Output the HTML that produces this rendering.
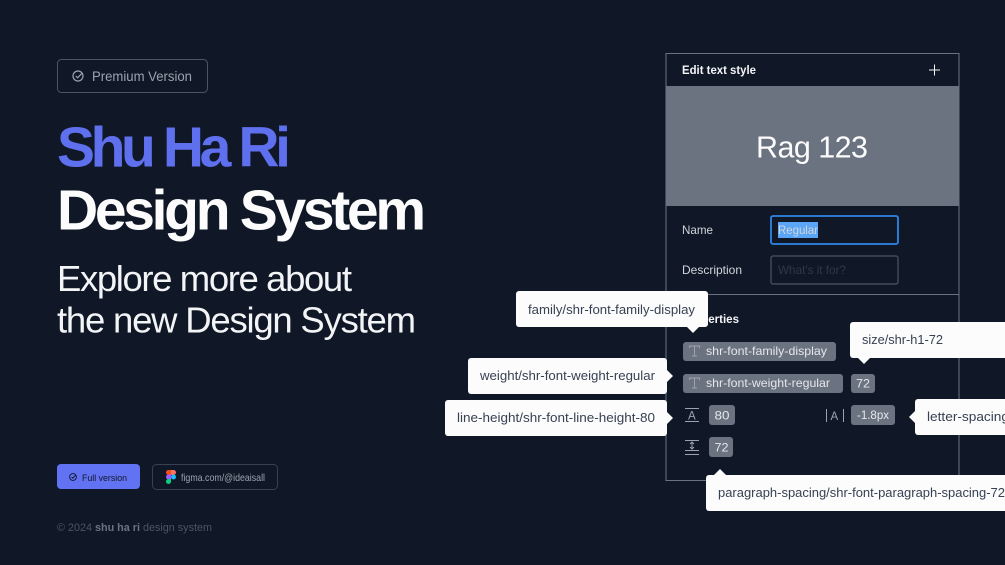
<!DOCTYPE html>
<html><head><meta charset="utf-8"><style>
html,body{margin:0;padding:0;background:#101827;width:1005px;height:565px;overflow:hidden}
svg{display:block}
text{font-family:"Liberation Sans",sans-serif}
</style></head><body>
<svg width="1005" height="565" viewBox="0 0 1005 565" xmlns="http://www.w3.org/2000/svg">
<rect width="1005" height="565" fill="#101827"/>
<!-- badge -->
<rect x="57.5" y="59.5" width="150" height="33" rx="4" fill="none" stroke="#4B5563"/>
<circle cx="78" cy="76" r="5" fill="none" stroke="#9CA3AF" stroke-width="1.200"/>
<path d="M75.800 76l1.800 1.800 4.800-5" fill="none" stroke="#9CA3AF" stroke-width="1.200"/>
<text x="92" y="81" font-size="13.500" fill="#9CA3AF" textLength="100" lengthAdjust="spacingAndGlyphs">Premium Version</text>
<!-- titles -->
<text x="57" y="166.500" font-size="57" font-weight="700" fill="#5F70EE" textLength="234" lengthAdjust="spacing">Shu Ha Ri</text>
<text x="57" y="229.500" font-size="57" font-weight="700" fill="#FCFCFD" textLength="369" lengthAdjust="spacing">Design System</text>
<text x="57" y="291" font-size="36.500" fill="#F3F4F6" textLength="295" lengthAdjust="spacing">Explore more about</text>
<text x="57" y="332.500" font-size="36.500" fill="#F3F4F6" textLength="359" lengthAdjust="spacing">the new Design System</text>
<!-- buttons -->
<rect x="57" y="464" width="83" height="25" rx="4" fill="#6172F3"/>
<circle cx="73" cy="477" r="3.400" fill="none" stroke="#101827" stroke-width="0.900"/>
<path d="M71.600 477l1.200 1.200 2.800-3" fill="none" stroke="#101827" stroke-width="0.900"/>
<text x="82" y="481" font-size="9.500" fill="#101827" textLength="45" lengthAdjust="spacingAndGlyphs">Full version</text>
<rect x="152.500" y="464.500" width="125" height="25" rx="4" fill="none" stroke="#374151"/>
<path d="M166 472.500a2.500 2.500 0 0 1 2.500-2.500h2.500v5h-2.500a2.500 2.500 0 0 1-2.500-2.500z" fill="#F24E1E"/>
<path d="M171 470h2.500a2.500 2.500 0 0 1 0 5h-2.500z" fill="#FF7262"/>
<path d="M166 477a2.500 2.500 0 0 1 2.500-2.500h2.500v5h-2.500a2.500 2.500 0 0 1-2.500-2.500z" fill="#A259FF"/>
<circle cx="173.500" cy="477" r="2.500" fill="#1ABCFE"/>
<path d="M166 481.500a2.500 2.500 0 0 1 2.500-2.500h2.500v2.500a2.500 2.500 0 0 1-5 0z" fill="#0ACF83"/>
<text x="181" y="481" font-size="10.500" fill="#9CA3AF" textLength="84" lengthAdjust="spacingAndGlyphs">figma.com/@ideaisall</text>
<text x="57" y="531" font-size="11" fill="#4B5563" textLength="155" lengthAdjust="spacingAndGlyphs">© 2024 <tspan font-weight="700" fill="#6B7280">shu ha ri</tspan> design system</text>
<!-- panel -->
<rect x="666" y="53.500" width="293" height="427" fill="#101827" stroke="#6B7280"/>
<text x="682" y="74" font-size="11.500" font-weight="700" fill="#F3F4F6" textLength="74" lengthAdjust="spacingAndGlyphs">Edit text style</text>
<path d="M934.500 64.500v11M929 70h11" stroke="#F3F4F6" stroke-width="1"/>
<rect x="666" y="86" width="293" height="120" fill="#6B7280"/>
<text x="756" y="157.500" font-size="30.500" fill="#FCFCFD" textLength="112" lengthAdjust="spacing">Rag 123</text>
<text x="682" y="234" font-size="12" fill="#D1D5DB" textLength="31" lengthAdjust="spacingAndGlyphs">Name</text>
<rect x="771" y="216" width="127" height="28" rx="2" fill="none" stroke="#2E86E8" stroke-width="1.800"/>
<rect x="778" y="222" width="40" height="16" fill="#5AA5F5"/>
<text x="778" y="234" font-size="12" fill="#D1D5DB" textLength="40" lengthAdjust="spacingAndGlyphs">Regular</text>
<text x="682" y="274" font-size="12" fill="#D1D5DB" textLength="60" lengthAdjust="spacingAndGlyphs">Description</text>
<rect x="771" y="256" width="127" height="28" rx="2" fill="none" stroke="#4B5563" stroke-width="1.200"/>
<text x="778" y="274" font-size="12" fill="#2F3848" textLength="68" lengthAdjust="spacingAndGlyphs">What's it for?</text>
<path d="M666 294.500h293" stroke="#6B7280"/>
<text x="682" y="323" font-size="11.500" font-weight="700" fill="#F3F4F6" textLength="57" lengthAdjust="spacingAndGlyphs">Properties</text>
<!-- tags -->
<rect x="683" y="342" width="153" height="19" rx="3" fill="#6B7280"/>
<path d="M689.500 348v-2h10v2M694.500 346v10M692 356h5" fill="none" stroke="#9CA3AF"/>
<text x="706" y="355" font-size="12" fill="#E5E7EB" textLength="121" lengthAdjust="spacingAndGlyphs">shr-font-family-display</text>
<rect x="683" y="374" width="160" height="19" rx="3" fill="#6B7280"/>
<path d="M689.500 380v-2h10v2M694.500 378v10M692 388h5" fill="none" stroke="#9CA3AF"/>
<text x="706" y="387" font-size="12" fill="#E5E7EB" textLength="124" lengthAdjust="spacingAndGlyphs">shr-font-weight-regular</text>
<rect x="851" y="374" width="24" height="19" rx="3" fill="#6B7280"/>
<text x="856" y="387.500" font-size="12" fill="#E5E7EB" textLength="14" lengthAdjust="spacingAndGlyphs">72</text>
<path d="M685 408.500h14M685 421.500h14" stroke="#9CA3AF"/>
<text x="688" y="419.500" font-size="11.500" fill="#9CA3AF">A</text>
<rect x="709" y="405" width="26" height="20" rx="3" fill="#6B7280"/>
<text x="714.500" y="419.500" font-size="12" fill="#E5E7EB" textLength="15" lengthAdjust="spacingAndGlyphs">80</text>
<path d="M826.500 409v13M843.500 409v13" stroke="#9CA3AF"/>
<text x="830.500" y="420" font-size="11.500" fill="#9CA3AF">A</text>
<rect x="851" y="405" width="44" height="20" rx="3" fill="#6B7280"/>
<text x="857" y="419" font-size="12" fill="#E5E7EB" textLength="32" lengthAdjust="spacingAndGlyphs">-1.8px</text>
<path d="M685 440.500h14M685 450.500h14M685 454.500h14M692 442v7M690 444l2-2 2 2M690 447l2 2 2-2" fill="none" stroke="#9CA3AF"/>
<rect x="709" y="437" width="24" height="20" rx="3" fill="#6B7280"/>
<text x="714.500" y="451.500" font-size="12" fill="#E5E7EB" textLength="14" lengthAdjust="spacingAndGlyphs">72</text>
<!-- tooltips -->
<g fill="#FCFCFD">
<rect x="516" y="291" width="192" height="36" rx="3"/><path d="M686 326h14l-7 7z"/>
<rect x="468" y="358" width="199" height="36" rx="3"/><path d="M666 369v14l7-7z"/>
<rect x="445" y="400" width="222" height="36" rx="3"/><path d="M666 411v14l7-7z"/>
<rect x="850" y="322" width="170" height="36" rx="3"/><path d="M857 357h14l-7 7z"/>
<rect x="915" y="399" width="110" height="36" rx="3"/><path d="M916 410v14l-7-7z"/>
<rect x="706" y="475" width="320" height="36" rx="3"/><path d="M713 476h14l-7-7z"/>
</g>
<g font-size="13" fill="#374151">
<text x="528" y="314" textLength="167" lengthAdjust="spacingAndGlyphs">family/shr-font-family-display</text>
<text x="480" y="380" textLength="175" lengthAdjust="spacingAndGlyphs">weight/shr-font-weight-regular</text>
<text x="457" y="422" textLength="198" lengthAdjust="spacingAndGlyphs">line-height/shr-font-line-height-80</text>
<text x="862" y="344" textLength="81" lengthAdjust="spacingAndGlyphs">size/shr-h1-72</text>
<text x="927" y="421" textLength="82" lengthAdjust="spacingAndGlyphs">letter-spacing</text>
<text x="718" y="497" textLength="287" lengthAdjust="spacingAndGlyphs">paragraph-spacing/shr-font-paragraph-spacing-72</text>
</g>
</svg>
</body></html>
